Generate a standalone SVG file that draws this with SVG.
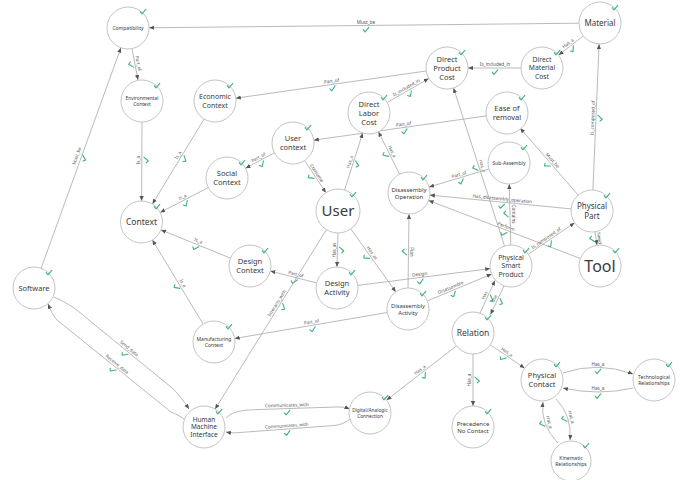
<svg xmlns="http://www.w3.org/2000/svg" xmlns:xlink="http://www.w3.org/1999/xlink" width="682" height="480" viewBox="0 0 682 480">
<style>
.nd{fill:#fff;stroke:#c4c4c4;stroke-width:1}
.nt{font-family:"Noto Sans","Liberation Sans",sans-serif;fill:#3a3a3a;text-anchor:middle}
.ed{fill:none;stroke:#a8a8a8;stroke-width:0.8;marker-end:url(#ah)}
.el{font-family:"Noto Sans","Liberation Sans",sans-serif;font-size:4.6px;fill:#555;text-anchor:middle}
.ck{fill:none;stroke:#3db37f;stroke-width:1.1;stroke-linecap:round;stroke-linejoin:round}
</style>
<defs>
<marker id="ah" viewBox="0 0 6 6" refX="6" refY="3" markerWidth="5" markerHeight="5" markerUnits="userSpaceOnUse" orient="auto"><path d="M0,0.5 L6,3 L0,5.5z" fill="#555"/></marker>
<path id="ck" class="ck" d="M-2.8,-0.3 L-1,1.8 L2.8,-2.6"/>
</defs>
<rect width="682" height="480" fill="#fff"/>
<g id="edges">
<path class="ed" d="M579,23.2 L149,27.8"/>
<g transform="translate(366,25.5) rotate(0)"><text class="el" y="-1.8">Must_be</text><use href="#ck" y="4.5"/></g>
<path class="ed" d="M132,48.6 L138,80"/>
<g transform="translate(135,64) rotate(79)"><text class="el" y="-1.8">Part_of</text><use href="#ck" y="4.5"/></g>
<path class="ed" d="M41.1,268.3 L120.9,47.7"/>
<g transform="translate(80,157) rotate(-70)"><text class="el" y="-1.8">Must_be</text><use href="#ck" y="4.5"/></g>
<path class="ed" d="M142,122 L141.6,201"/>
<g transform="translate(142,160) rotate(-90)"><text class="el" y="-1.8">Is_a</text><use href="#ck" y="4.5"/></g>
<path class="ed" d="M204.1,119 L152.4,204"/>
<g transform="translate(181,157) rotate(-58.7)"><text class="el" y="-1.8">Is_a</text><use href="#ck" y="4.5"/></g>
<path class="ed" d="M208.3,187.6 L160.2,212.4"/>
<g transform="translate(184,200) rotate(-27.2)"><text class="el" y="-1.8">Is_a</text><use href="#ck" y="4.5"/></g>
<path class="ed" d="M230.5,258.1 L161,229.9"/>
<g transform="translate(197,244) rotate(22.1)"><text class="el" y="-1.8">Is_a</text><use href="#ck" y="4.5"/></g>
<path class="ed" d="M203.1,324 L152.4,240"/>
<g transform="translate(180,285) rotate(58.9)"><text class="el" y="-1.8">Is_a</text><use href="#ck" y="4.5"/></g>
<path class="ed" d="M274.4,152.8 L245.6,168.2"/>
<g transform="translate(260,160.5) rotate(-28)"><text class="el" y="-1.8">Part_of</text><use href="#ck" y="4.5"/></g>
<path class="ed" d="M304.6,160.5 L325.9,192.7"/>
<g transform="translate(314,175) rotate(56.5)"><text class="el" y="-1.8">Consume</text><use href="#ck" y="4.5"/></g>
<path class="ed" d="M426.2,71 L235.8,98.2"/>
<g transform="translate(332,84.4) rotate(-8.1)"><text class="el" y="-1.8">Part_of</text><use href="#ck" y="4.5"/></g>
<path class="ed" d="M387.2,102.5 L428.8,78.5"/>
<g transform="translate(408,90.5) rotate(-30)"><text class="el" y="-1.8">Is_included_in</text><use href="#ck" y="4.5"/></g>
<path class="ed" d="M521,68 L468,68"/>
<g transform="translate(495,68) rotate(0)"><text class="el" y="-1.8">Is_included_in</text><use href="#ck" y="4.5"/></g>
<path class="ed" d="M583.4,35.9 L558.6,55.1"/>
<g transform="translate(570,46) rotate(-37.8)"><text class="el" y="-1.8">Has_a</text><use href="#ck" y="4.5"/></g>
<path class="ed" d="M487.2,115.8 L313.8,140.1"/>
<g transform="translate(404,127.4) rotate(-8)"><text class="el" y="-1.8">Part_of</text><use href="#ck" y="4.5"/></g>
<path class="ed" d="M344.6,190 L362.7,133"/>
<g transform="translate(353,163) rotate(-72.4)"><text class="el" y="-1.8">Has_a</text><use href="#ck" y="4.5"/></g>
<path class="ed" d="M399.6,174.2 L378.4,131.8"/>
<g transform="translate(389,153) rotate(63.4)"><text class="el" y="-1.8">Has_a</text><use href="#ck" y="4.5"/></g>
<path class="ed" d="M504.5,246 L453.5,88"/>
<g transform="translate(479,167) rotate(72.1)"><text class="el" y="-1.8">Has_a</text><use href="#ck" y="4.5"/></g>
<path class="ed" d="M592.9,190 L599.1,44"/>
<g transform="translate(596,118) rotate(-87.6)"><text class="el" y="-1.8">Is_composed_of</text><use href="#ck" y="4.5"/></g>
<path class="ed" d="M578.2,195.1 L520.1,128.1"/>
<g transform="translate(550,162.6) rotate(49)"><text class="el" y="-1.8">Must_be</text><use href="#ck" y="4.5"/></g>
<path class="ed" d="M488.9,169 L429.1,187"/>
<g transform="translate(460,177.7) rotate(-16.7)"><text class="el" y="-1.8">Part_of</text><use href="#ck" y="4.5"/></g>
<path class="ed" d="M571.1,208.9 L429.9,195.1"/>
<g transform="translate(502,202.1) rotate(5.6)"><text class="el" y="-1.8">Has_disassembly_operation</text><use href="#ck" y="4.5"/></g>
<path class="ed" d="M580.4,258.5 L428.6,200.5"/>
<g transform="translate(505,229.7) rotate(20.9)"><text class="el" y="-1.8">Perform</text><use href="#ck" y="4.5"/></g>
<path class="ed" d="M528.4,254.2 L574.6,222.8"/>
<g transform="translate(548,240.9) rotate(-34.2)"><text class="el" y="-1.8">Is_composed_of</text><use href="#ck" y="4.5"/></g>
<path class="ed" d="M595,231.8 L597,245.2"/>
<g transform="translate(596,238.5) rotate(81.7)"><text class="el" y="-1.8">Need</text><use href="#ck" y="4.5"/></g>
<path class="ed" d="M510.8,245 L509.2,184"/>
<g transform="translate(510,214) rotate(90)"><text class="el" y="-1.8">Contains</text><use href="#ck" y="4.5"/></g>
<path class="ed" d="M408,288 L409,214"/>
<g transform="translate(408.5,252) rotate(90)"><text class="el" y="-1.8">Plan</text><use href="#ck" y="4.5"/></g>
<path class="ed" d="M350.8,228.9 L395.8,291.9"/>
<g transform="translate(369.4,255) rotate(54.5)"><text class="el" y="-1.8">Has_as</text><use href="#ck" y="4.5"/></g>
<path class="ed" d="M338,233 L337,267"/>
<g transform="translate(337.5,250) rotate(-90)"><text class="el" y="-1.8">Has_as</text><use href="#ck" y="4.5"/></g>
<path class="ed" d="M316.6,282.9 L270.4,271.1"/>
<g transform="translate(295,277.4) rotate(14.2)"><text class="el" y="-1.8">Part_of</text><use href="#ck" y="4.5"/></g>
<path class="ed" d="M357.8,285.4 L490.2,268.6"/>
<g transform="translate(420,277.5) rotate(-7.2)"><text class="el" y="-1.8">Design</text><use href="#ck" y="4.5"/></g>
<path class="ed" d="M427.4,300.9 L491.6,274.1"/>
<g transform="translate(452,290.6) rotate(-22.7)"><text class="el" y="-1.8">Disassemble</text><use href="#ck" y="4.5"/></g>
<path class="ed" d="M387.3,312.5 L234.7,338.5"/>
<g transform="translate(312,325.3) rotate(-9.7)"><text class="el" y="-1.8">Part_of</text><use href="#ck" y="4.5"/></g>
<path class="ed" d="M326.4,229.7 L215.1,409.1"/>
<g transform="translate(279.7,305) rotate(-58.2)"><text class="el" y="-1.8">Interacts_with</text><use href="#ck" y="4.5"/></g>
<path class="ed" d="M480,313 L495,280.5"/>
<g transform="translate(487.5,296.8) rotate(-65.2)"><text class="el" y="-1.8">Has</text><use href="#ck" y="4.5"/></g>
<path class="ed" d="M504,286 L490.5,314.5"/>
<g transform="translate(497.2,300.2) rotate(-64.7)"><text class="el" y="-1.8">Use</text><use href="#ck" y="4.5"/></g>
<path class="ed" d="M490.3,344.8 L524.7,368.2"/>
<g transform="translate(505,354.8) rotate(34.3)"><text class="el" y="-1.8">Has_a</text><use href="#ck" y="4.5"/></g>
<path class="ed" d="M473,354 L473,406"/>
<g transform="translate(473,380) rotate(-90)"><text class="el" y="-1.8">Has_a</text><use href="#ck" y="4.5"/></g>
<path class="ed" d="M456.4,345.9 L386.6,400.1"/>
<g transform="translate(422,372.6) rotate(-37.8)"><text class="el" y="-1.8">Has_a</text><use href="#ck" y="4.5"/></g>
<path class="ed" d="M563,373 Q598,361 633,374"/>
<g transform="translate(598,367.3)"><text class="el" y="-1.8">Has_a</text><use href="#ck" y="4.5"/></g>
<path class="ed" d="M633,388 Q598,396 563,388"/>
<g transform="translate(598,392)"><text class="el" y="-1.8">Has_a</text><use href="#ck" y="4.5"/></g>
<path class="ed" d="M556,399 Q572,415 570,440"/>
<g transform="translate(568,418) rotate(75)"><text class="el" y="-1.8">Has_a</text><use href="#ck" y="4.5"/></g>
<path class="ed" d="M558,443 Q540,425 543,402"/>
<g transform="translate(546,423) rotate(75)"><text class="el" y="-1.8">Has_a</text><use href="#ck" y="4.5"/></g>
<path class="ed" d="M226,418 C234,410 245,410 260,409.5 L336,407 C342,406.8 346,407.5 349.5,409"/>
<g transform="translate(287,408.5) rotate(-1.5)"><text class="el" y="-1.8">Communicates_with</text><use href="#ck" y="4.5"/></g>
<path class="ed" d="M350,419 C345,423 340,425 334,425.5 L240,432.5 C235,433 231,433 226,432"/>
<g transform="translate(287,429) rotate(-4)"><text class="el" y="-1.8">Communicates_with</text><use href="#ck" y="4.5"/></g>
<path class="ed" d="M54,297 C70,304 80,312 90,321 L171,387 C178,393 183,400 189,409"/>
<g transform="translate(127,351) rotate(39.2)"><text class="el" y="-1.8">Send_data</text><use href="#ck" y="4.5"/></g>
<path class="ed" d="M184,419 C180,416 176,414 171,412 L57,320 C54,317 51,311 48,304"/>
<g transform="translate(115,366.8) rotate(39)"><text class="el" y="-1.8">Receive_data</text><use href="#ck" y="4.5"/></g>
</g>
<g id="n-compatibility"><circle class="nd" cx="128" cy="28" r="21"/><text class="nt" x="128" y="29.8" font-size="5">Compatibility</text><use href="#ck" x="143" y="12"/></g>
<g id="n-environmental"><circle class="nd" cx="142" cy="101" r="21"/><text class="nt" x="142" font-size="4.8"><tspan x="142" y="99.8">Environmental</tspan><tspan x="142" y="105.6">Context</tspan></text><use href="#ck" x="157" y="86"/></g>
<g id="n-economic"><circle class="nd" cx="215" cy="101" r="21"/><text class="nt" font-size="7"><tspan x="215" y="99.3">Economic</tspan><tspan x="215" y="107.7">Context</tspan></text><use href="#ck" x="230" y="86"/></g>
<g id="n-usercontext"><circle class="nd" cx="293" cy="143" r="21"/><text class="nt" font-size="7.5"><tspan x="293" y="141.1">User</tspan><tspan x="293" y="150.1">context</tspan></text><use href="#ck" x="308" y="128"/></g>
<g id="n-dpc"><circle class="nd" cx="447" cy="68" r="21"/><text class="nt" font-size="7.5"><tspan x="447" y="61.6">Direct</tspan><tspan x="447" y="70.6">Product</tspan><tspan x="447" y="79.6">Cost</tspan></text><use href="#ck" x="462" y="53"/></g>
<g id="n-dlc"><circle class="nd" cx="369" cy="113" r="21"/><text class="nt" font-size="7.5"><tspan x="369" y="106.6">Direct</tspan><tspan x="369" y="115.6">Labor</tspan><tspan x="369" y="124.6">Cost</tspan></text><use href="#ck" x="384" y="98"/></g>
<g id="n-material"><circle class="nd" cx="600" cy="23" r="21"/><text class="nt" x="600" y="25.8" font-size="8">Material</text><use href="#ck" x="615" y="8"/></g>
<g id="n-dmc"><circle class="nd" cx="542" cy="68" r="21"/><text class="nt" font-size="6.8"><tspan x="542" y="62.2">Direct</tspan><tspan x="542" y="70.4">Material</tspan><tspan x="542" y="78.6">Cost</tspan></text><use href="#ck" x="557" y="53"/></g>
<g id="n-ease"><circle class="nd" cx="507" cy="113" r="21"/><text class="nt" font-size="7.5"><tspan x="507" y="111.1">Ease of</tspan><tspan x="507" y="120.1">removal</tspan></text><use href="#ck" x="522" y="98"/></g>
<g id="n-subassembly"><circle class="nd" cx="509" cy="163" r="21"/><text class="nt" x="509" y="164.8" font-size="5">Sub-Assembly</text><use href="#ck" x="524" y="148"/></g>
<g id="n-disop"><circle class="nd" cx="409" cy="193" r="21"/><text class="nt" font-size="6"><tspan x="409" y="191.5">Disassembly</tspan><tspan x="409" y="198.7">Operation</tspan></text><use href="#ck" x="424" y="178"/></g>
<g id="n-user"><circle class="nd" cx="338" cy="211" r="22"/><text class="nt" x="338" y="216.3" font-size="15">User</text><use href="#ck" x="353" y="195"/></g>
<g id="n-social"><circle class="nd" cx="227" cy="178" r="21"/><text class="nt" font-size="7.5"><tspan x="227" y="176.1">Social</tspan><tspan x="227" y="185.1">Context</tspan></text><use href="#ck" x="242" y="163"/></g>
<g id="n-context"><circle class="nd" cx="141.5" cy="222" r="21"/><text class="nt" x="141.5" y="225" font-size="8.5">Context</text><use href="#ck" x="157" y="207"/></g>
<g id="n-software"><circle class="nd" cx="34" cy="288" r="21"/><text class="nt" x="34" y="290.6" font-size="7.5">Software</text><use href="#ck" x="49" y="273"/></g>
<g id="n-designctx"><circle class="nd" cx="250" cy="266" r="21"/><text class="nt" font-size="7.5"><tspan x="250" y="264.1">Design</tspan><tspan x="250" y="273.1">Context</tspan></text><use href="#ck" x="265" y="251"/></g>
<g id="n-designact"><circle class="nd" cx="337" cy="288" r="21"/><text class="nt" font-size="7.5"><tspan x="337" y="286.1">Design</tspan><tspan x="337" y="295.1">Activity</tspan></text><use href="#ck" x="352" y="273"/></g>
<g id="n-disact"><circle class="nd" cx="408" cy="309" r="21"/><text class="nt" font-size="5.8"><tspan x="408" y="307.5">Disassembly</tspan><tspan x="408" y="314.5">Activity</tspan></text><use href="#ck" x="423" y="294"/></g>
<g id="n-psp"><circle class="nd" cx="511" cy="266" r="21"/><text class="nt" font-size="6.8"><tspan x="511" y="260.2">Physical</tspan><tspan x="511" y="268.4">Smart</tspan><tspan x="511" y="276.6">Product</tspan></text><use href="#ck" x="526" y="251"/></g>
<g id="n-physpart"><circle class="nd" cx="592" cy="211" r="21"/><text class="nt" font-size="8"><tspan x="592" y="209">Physical</tspan><tspan x="592" y="218.6">Part</tspan></text><use href="#ck" x="607" y="196"/></g>
<g id="n-tool"><circle class="nd" cx="600" cy="266" r="21"/><text class="nt" x="600" y="271.6" font-size="16">Tool</text><use href="#ck" x="616" y="251"/></g>
<g id="n-manufacturing"><circle class="nd" cx="214" cy="342" r="21"/><text class="nt" font-size="5"><tspan x="214" y="340.8">Manufacturing</tspan><tspan x="214" y="346.8">Context</tspan></text><use href="#ck" x="229" y="327"/></g>
<g id="n-relation"><circle class="nd" cx="473" cy="333" r="21"/><text class="nt" x="473" y="336" font-size="8.5">Relation</text><use href="#ck" x="488" y="318"/></g>
<g id="n-physcontact"><circle class="nd" cx="542" cy="380" r="21"/><text class="nt" font-size="7.5"><tspan x="542" y="378.1">Physical</tspan><tspan x="542" y="387.1">Contact</tspan></text><use href="#ck" x="557" y="365"/></g>
<g id="n-techrel"><circle class="nd" cx="654" cy="380" r="21"/><text class="nt" font-size="5"><tspan x="654" y="378.8">Technological</tspan><tspan x="654" y="384.8">Relationships</tspan></text><use href="#ck" x="669" y="365"/></g>
<g id="n-kinematic"><circle class="nd" cx="571" cy="461" r="20"/><text class="nt" font-size="5"><tspan x="571" y="459.8">Kinematic</tspan><tspan x="571" y="465.8">Relationships</tspan></text><use href="#ck" x="586" y="446"/></g>
<g id="n-precedence"><circle class="nd" cx="473" cy="427" r="21"/><text class="nt" font-size="6"><tspan x="473" y="425.5">Precedence</tspan><tspan x="473" y="432.7">No Contact</tspan></text><use href="#ck" x="488" y="412"/></g>
<g id="n-digan"><circle class="nd" cx="370" cy="413" r="21"/><text class="nt" font-size="4.8"><tspan x="370" y="411.8">Digital/Analogic</tspan><tspan x="370" y="417.6">Connection</tspan></text><use href="#ck" x="385" y="398"/></g>
<g id="n-hmi"><circle class="nd" cx="204" cy="427" r="21"/><text class="nt" font-size="6.5"><tspan x="204" y="421.5">Human</tspan><tspan x="204" y="429.3">Machine</tspan><tspan x="204" y="437.1">Interface</tspan></text><use href="#ck" x="219" y="412"/></g>
</svg>
